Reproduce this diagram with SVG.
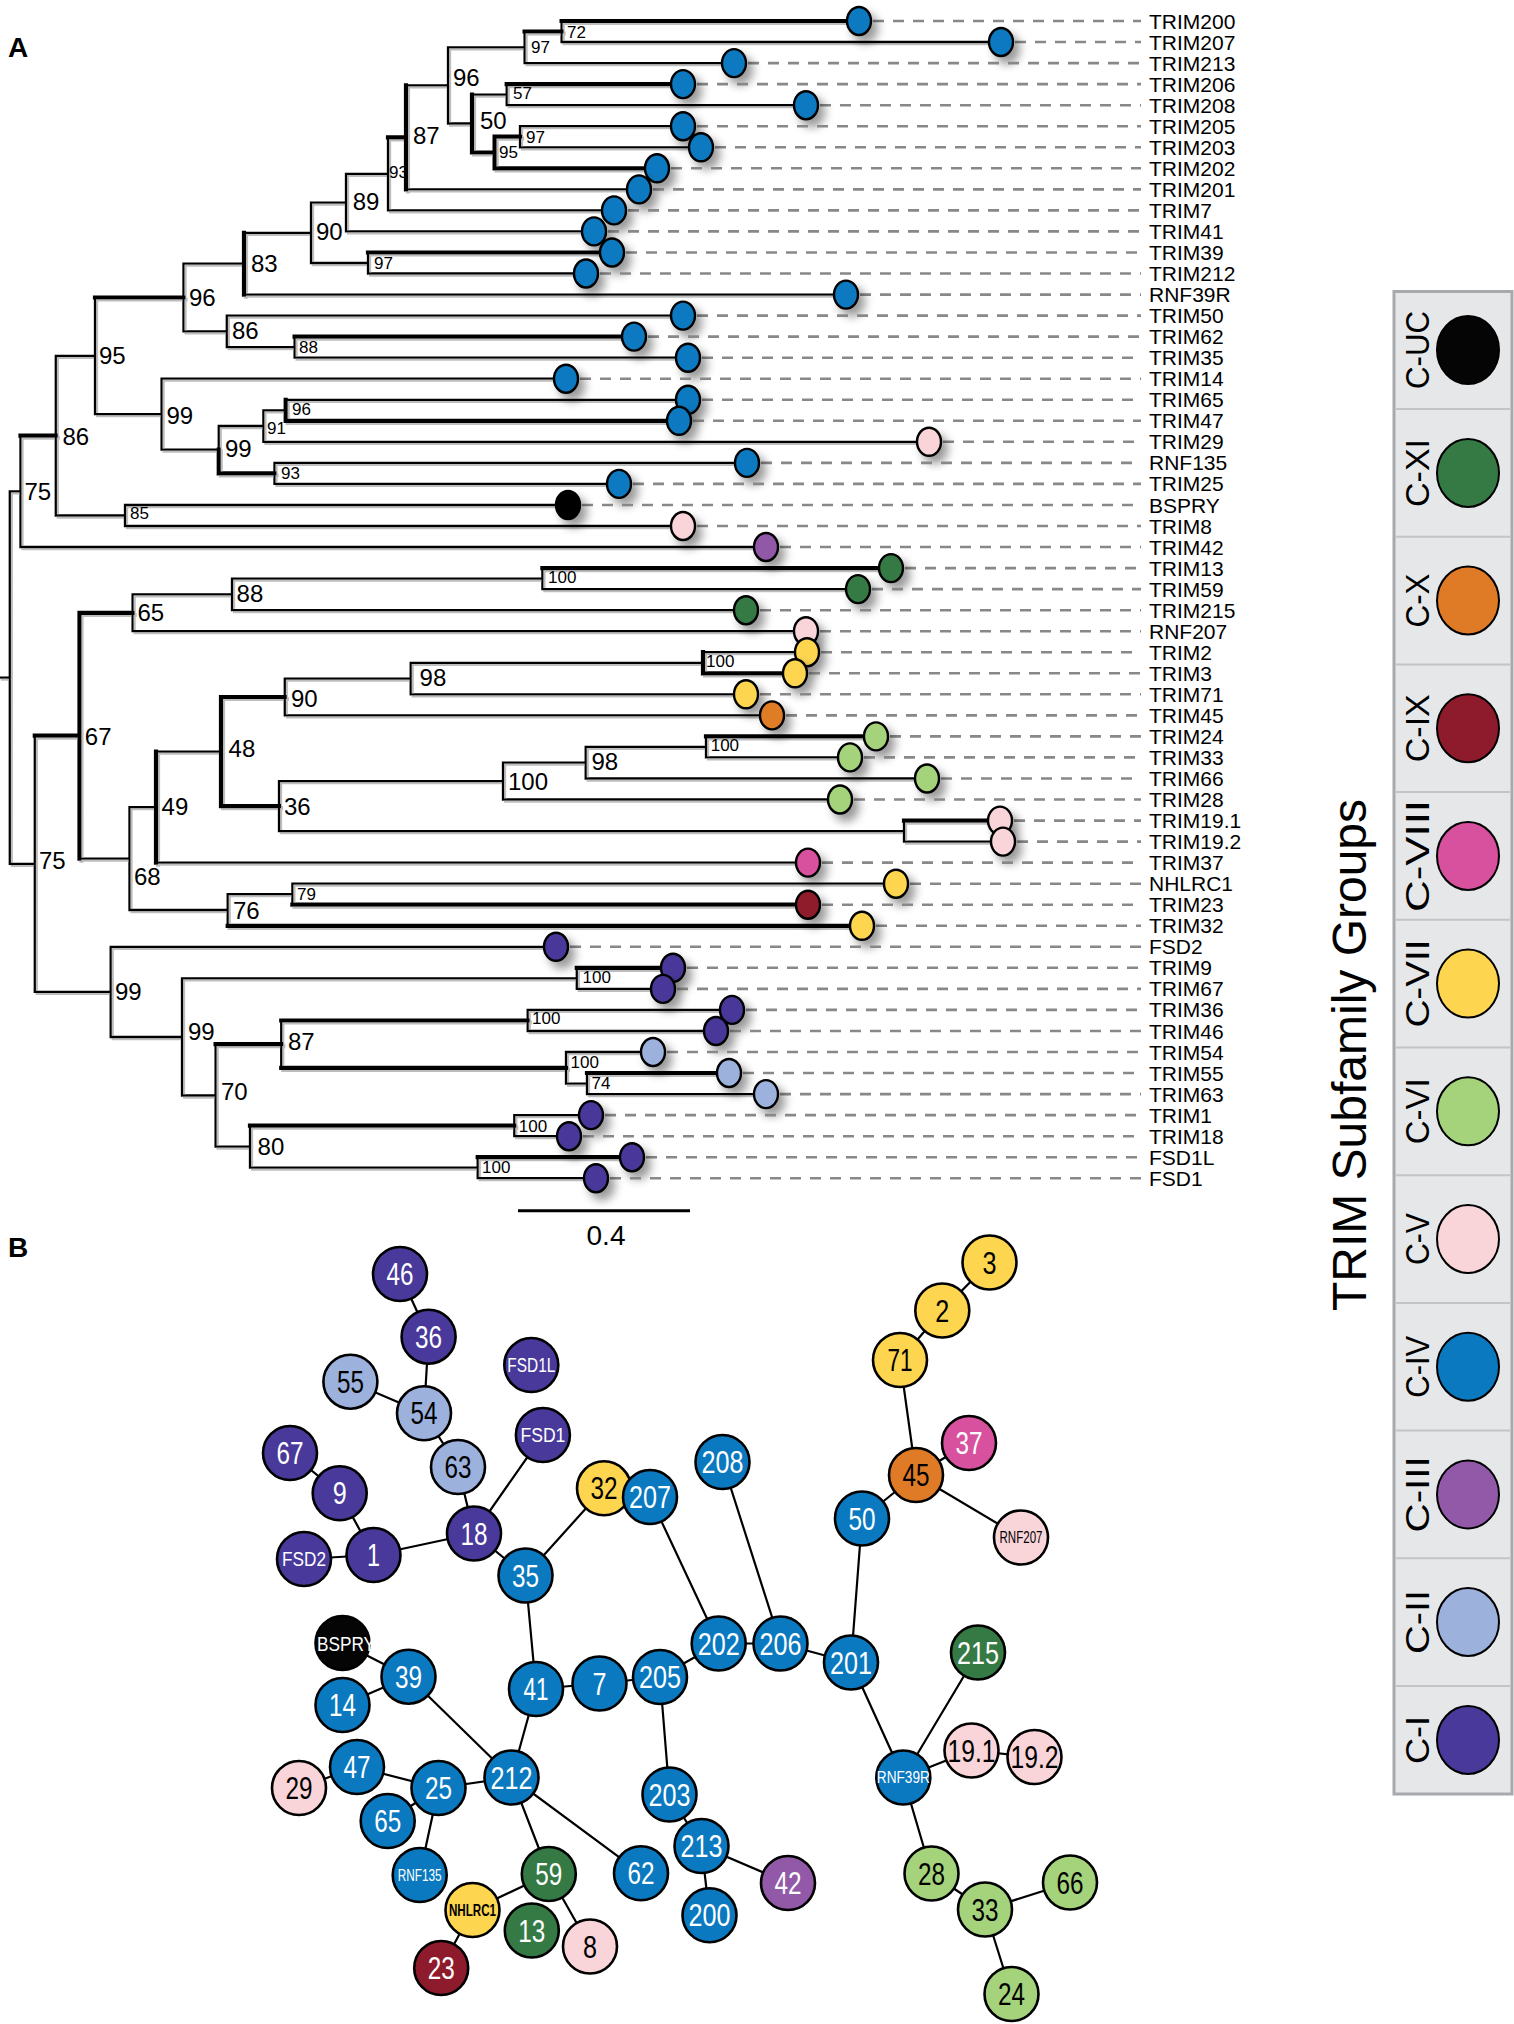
<svg xmlns="http://www.w3.org/2000/svg" width="1514" height="2024" viewBox="0 0 1514 2024">
<defs>
<style>
text{font-family:"Liberation Sans",Arial,sans-serif}
.br{fill:none;stroke:#000;stroke-width:2.3;stroke-linecap:square}
.bk{fill:none;stroke:#000;stroke-width:4.2;stroke-linecap:square}
.dash{fill:none;stroke:#888;stroke-width:2.6;stroke-dasharray:11 9}
.tc{stroke:#000;stroke-width:2.4;filter:url(#sh)}
.lab{font-size:21px;fill:#000}
.bl{font-size:24px;fill:#000}
.bs{font-size:17px;fill:#000}
.edge{stroke:#000;stroke-width:2.2;fill:none}
.nc{stroke:#000;stroke-width:2.6}
.nt{font-size:31px;text-anchor:middle}
.ns{font-size:16px;text-anchor:middle}
.nm{font-size:20px;text-anchor:middle}
.w{fill:#fff}
.k{fill:#000}
.c1{fill:#48399a}.c2{fill:#9cb2dd}.c3{fill:#9159a7}.c4{fill:#0a79c0}.c5{fill:#f9d5d9}.c6{fill:#a4d37c}
.c7{fill:#fed54f}.c8{fill:#d8519f}.c9{fill:#8e1b2c}.c10{fill:#df7b27}.c11{fill:#357a44}.cuc{fill:#050505}
.lg{font-size:34px;text-anchor:middle;fill:#000}
.le{stroke:#000;stroke-width:2}
</style>
<filter id="sh" x="-80%" y="-80%" width="300%" height="300%">
<feGaussianBlur in="SourceAlpha" stdDeviation="5"/>
<feOffset dx="6" dy="7"/>
<feComponentTransfer><feFuncA type="linear" slope="0.4"/></feComponentTransfer>
<feMerge><feMergeNode/><feMergeNode in="SourceGraphic"/></feMerge>
</filter>
<filter id="ls" x="-2%" y="-2%" width="104%" height="104%">
<feOffset in="SourceAlpha" dx="2" dy="2" result="o"/>
<feFlood flood-color="#bdbdbd"/>
<feComposite in2="o" operator="in"/>
<feMerge><feMergeNode/><feMergeNode in="SourceGraphic"/></feMerge>
</filter>
</defs>
<rect width="1514" height="2024" fill="#fff"/>

<text x="8" y="57" style="font-size:28px;font-weight:bold">A</text>
<text x="8" y="1257" style="font-size:28px;font-weight:bold">B</text>

<g id="tree-connectors" filter="url(#ls)">
<path class="br" d="M0 677.6H9.8M9.8 491.4V863.8M9.8 491.4H20.5M9.8 863.8H34.8
M20.5 435.7V547M20.5 435.7H55.8M20.5 547H766
M55.8 355.9V515.5M55.8 355.9H95M55.8 515.5H125
M95 297.5V414.2M95 297.5H183.5M95 414.2H161.6
M183.5 263.7V331.4M183.5 263.7H244M183.5 331.4H226.8
M244 232.8V294.6M244 232.8H311M244 294.6H846
M311 202.6V263M311 202.6H346M311 263H368
M346 173.9V231.4M346 173.9H388M346 231.4H594
M388 137.4V210.4M388 137.4H406M388 210.4H614
M406 85.4V189.4M406 85.4H448M406 189.4H639
M448 47.3V123.5M448 47.3H524.6M448 123.5H472
M524.6 31.5V63.1M524.6 31.5H561.6M524.6 63.1H734
M561.6 21V42M561.6 21H859M561.6 42H1001
M472 94.6V152.5M472 94.6H506.7M472 152.5H494.6
M506.7 84.1V105.2M506.7 84.1H683M506.7 105.2H806
M494.6 136.7V168.3M494.6 136.7H520M494.6 168.3H657
M520 126.2V147.3M520 126.2H683M520 147.3H701
M368 252.5V273.5M368 252.5H612M368 273.5H586
M226.8 315.6V347.1M226.8 315.6H683M226.8 347.1H294.6
M294.6 336.6V357.7M294.6 336.6H634M294.6 357.7H688
M161.6 378.7V449.7M161.6 378.7H566M161.6 449.7H218.75
M218.75 426V473.4M218.75 426H263.4M218.75 473.4H274.5
M263.4 410.3V441.8M263.4 410.3H285.7M263.4 441.8H929
M285.7 399.8V420.8M285.7 399.8H688M285.7 420.8H679
M274.5 462.9V483.9M274.5 462.9H747M274.5 483.9H619
M125 505V526M125 505H568M125 526H683
M34.8 735.7V991.9M34.8 735.7H79.5M34.8 991.9H110.7
M79.5 612.8V858.6M79.5 612.8H132.6M79.5 858.6H129.5
M132.6 594.4V631.2M132.6 594.4H232M132.6 631.2H806
M232 578.6V610.2M232 578.6H542.4M232 610.2H746
M542.4 568.1V589.1M542.4 568.1H891M542.4 589.1H858
M129.5 807.1V910M129.5 807.1H156M129.5 910H227.7
M156 751.6V862.6M156 751.6H221M156 862.6H808
M221 697V806.1M221 697H284.8M221 806.1H279
M284.8 678.6V715.4M284.8 678.6H410.7M284.8 715.4H772
M410.7 662.8V694.3M410.7 662.8H703M410.7 694.3H746
M703 652.2V673.3M703 652.2H807M703 673.3H795
M279 781.1V831.1M279 781.1H503M279 831.1H904
M503 762.7V799.5M503 762.7H585.7M503 799.5H840
M585.7 746.9V778.5M585.7 746.9H706M585.7 778.5H927
M706 736.4V757.4M706 736.4H876M706 757.4H850
M904 820.6V841.6M904 820.6H1000M904 841.6H1003
M227.7 894.2V925.8M227.7 894.2H292.4M227.7 925.8H862
M292.4 883.7V904.7M292.4 883.7H896M292.4 904.7H808
M110.7 946.8V1037M110.7 946.8H556M110.7 1037H182
M182 978.4V1095.5M182 978.4H576.8M182 1095.5H215.6
M576.8 967.8V988.9M576.8 967.8H673M576.8 988.9H663
M215.6 1044.2V1146.7M215.6 1044.2H281.25M215.6 1146.7H250
M281.25 1020.5V1067.8M281.25 1020.5H527.7M281.25 1067.8H566
M527.7 1009.9V1031M527.7 1009.9H732M527.7 1031H716
M566 1052V1083.6M566 1052H653M566 1083.6H587
M587 1073V1094.1M587 1073H729M587 1094.1H766
M250 1125.7V1167.7M250 1125.7H514.3M250 1167.7H477.7
M514.3 1115.1V1136.2M514.3 1115.1H591M514.3 1136.2H569
M477.7 1157.2V1178.2M477.7 1157.2H632M477.7 1178.2H596"/>
<path class="bk" d="M561.6 21H859M524.6 31.5H561.6M506.7 84.1H683M472 94.6V152.5H494.6M494.6 136.7V168.3H657M494.6 136.7H520
M406 85.4V189.4M388 137.4H406M368 252.5H612M244 232.8V294.6M95 297.5H183.5M294.6 336.6H634M285.7 399.8V420.8H679
M218.75 449.7V473.4H274.5M20.5 435.7H55.8M542.4 568.1H891M34.8 735.7H79.5M79.5 612.8V858.6M79.5 612.8H132.6
M156 751.6V862.6M221 697V806.1M221 697H284.8M221 806.1H279M703 652.2V673.3H795M706 736.4H876M904 820.6H1000
M292.4 904.7H808M227.7 925.8H862M576.8 967.8H673M215.6 1044.2H281.25M281.25 1020.5H527.7M281.25 1067.8H566
M250 1125.7H514.3M477.7 1157.2H632M587 1073H729"/>
</g>

<g id="bootstrap-labels">
<text class="bs" x="567" y="38.1">72</text>
<text class="bs" x="531" y="53.1">97</text>
<text class="bl" x="453" y="85.6">96</text>
<text class="bs" x="513" y="99.1">57</text>
<text class="bl" x="480" y="128.6">50</text>
<text class="bs" x="526" y="143.1">97</text>
<text class="bs" x="499" y="158.1">95</text>
<text class="bl" x="413" y="143.6">87</text>
<text class="bs" x="389" y="178.1">93</text>
<text class="bl" x="352.7" y="210.3">89</text>
<text class="bl" x="316" y="240.3">90</text>
<text class="bs" x="374" y="269.1">97</text>
<text class="bl" x="251" y="271.6">83</text>
<text class="bl" x="189" y="306.3">96</text>
<text class="bl" x="232" y="339.3">86</text>
<text class="bs" x="299" y="352.8">88</text>
<text class="bl" x="99" y="363.6">95</text>
<text class="bl" x="166.5" y="423.6">99</text>
<text class="bs" x="292" y="415.1">96</text>
<text class="bs" x="267" y="433.8">91</text>
<text class="bl" x="225" y="456.9">99</text>
<text class="bs" x="281" y="478.8">93</text>
<text class="bl" x="62.5" y="445.3">86</text>
<text class="bs" x="130" y="519.4">85</text>
<text class="bl" x="24.5" y="500.3">75</text>
<text class="bs" x="548" y="582.8">100</text>
<text class="bl" x="236.6" y="601.6">88</text>
<text class="bl" x="137.5" y="620.9">65</text>
<text class="bl" x="84.8" y="745.3">67</text>
<text class="bl" x="39" y="868.6">75</text>
<text class="bl" x="419.6" y="685.9">98</text>
<text class="bs" x="706" y="667.1">100</text>
<text class="bl" x="291" y="706.9">90</text>
<text class="bl" x="228.6" y="756.9">48</text>
<text class="bl" x="284" y="815.3">36</text>
<text class="bl" x="508" y="790.3">100</text>
<text class="bl" x="591.5" y="770.3">98</text>
<text class="bs" x="710.7" y="751.1">100</text>
<text class="bl" x="161.6" y="815.3">49</text>
<text class="bl" x="134" y="885.3">68</text>
<text class="bs" x="297" y="900.1">79</text>
<text class="bl" x="233" y="919.3">76</text>
<text class="bl" x="115" y="1000.3">99</text>
<text class="bs" x="582.6" y="983.4">100</text>
<text class="bl" x="188" y="1040.3">99</text>
<text class="bs" x="532" y="1024.4">100</text>
<text class="bl" x="288" y="1050.3">87</text>
<text class="bs" x="570.5" y="1067.8">100</text>
<text class="bs" x="591.5" y="1088.8">74</text>
<text class="bl" x="221" y="1100.3">70</text>
<text class="bs" x="518.75" y="1132.1">100</text>
<text class="bl" x="257.6" y="1155.3">80</text>
<text class="bs" x="482" y="1173.4">100</text>
</g>

<g id="tree-leaves">
<g id="leaf-TRIM200"><path class="dash" d="M873 21H1141"/><ellipse class="tc c4" cx="859" cy="21" rx="12" ry="14"/><text class="lab" x="1149" y="28.5">TRIM200</text></g>
<g id="leaf-TRIM207"><path class="dash" d="M1015 42H1141"/><ellipse class="tc c4" cx="1001" cy="42" rx="12" ry="14"/><text class="lab" x="1149" y="49.5">TRIM207</text></g>
<g id="leaf-TRIM213"><path class="dash" d="M748 63.1H1141"/><ellipse class="tc c4" cx="734" cy="63.1" rx="12" ry="14"/><text class="lab" x="1149" y="70.6">TRIM213</text></g>
<g id="leaf-TRIM206"><path class="dash" d="M697 84.1H1141"/><ellipse class="tc c4" cx="683" cy="84.1" rx="12" ry="14"/><text class="lab" x="1149" y="91.6">TRIM206</text></g>
<g id="leaf-TRIM208"><path class="dash" d="M820 105.2H1141"/><ellipse class="tc c4" cx="806" cy="105.2" rx="12" ry="14"/><text class="lab" x="1149" y="112.7">TRIM208</text></g>
<g id="leaf-TRIM205"><path class="dash" d="M697 126.2H1141"/><ellipse class="tc c4" cx="683" cy="126.2" rx="12" ry="14"/><text class="lab" x="1149" y="133.7">TRIM205</text></g>
<g id="leaf-TRIM203"><path class="dash" d="M715 147.3H1141"/><ellipse class="tc c4" cx="701" cy="147.3" rx="12" ry="14"/><text class="lab" x="1149" y="154.8">TRIM203</text></g>
<g id="leaf-TRIM202"><path class="dash" d="M671 168.3H1141"/><ellipse class="tc c4" cx="657" cy="168.3" rx="12" ry="14"/><text class="lab" x="1149" y="175.8">TRIM202</text></g>
<g id="leaf-TRIM201"><path class="dash" d="M653 189.4H1141"/><ellipse class="tc c4" cx="639" cy="189.4" rx="12" ry="14"/><text class="lab" x="1149" y="196.9">TRIM201</text></g>
<g id="leaf-TRIM7"><path class="dash" d="M628 210.4H1141"/><ellipse class="tc c4" cx="614" cy="210.4" rx="12" ry="14"/><text class="lab" x="1149" y="217.9">TRIM7</text></g>
<g id="leaf-TRIM41"><path class="dash" d="M608 231.4H1141"/><ellipse class="tc c4" cx="594" cy="231.4" rx="12" ry="14"/><text class="lab" x="1149" y="238.9">TRIM41</text></g>
<g id="leaf-TRIM39"><path class="dash" d="M626 252.5H1141"/><ellipse class="tc c4" cx="612" cy="252.5" rx="12" ry="14"/><text class="lab" x="1149" y="260">TRIM39</text></g>
<g id="leaf-TRIM212"><path class="dash" d="M600 273.5H1141"/><ellipse class="tc c4" cx="586" cy="273.5" rx="12" ry="14"/><text class="lab" x="1149" y="281">TRIM212</text></g>
<g id="leaf-RNF39R"><path class="dash" d="M860 294.6H1141"/><ellipse class="tc c4" cx="846" cy="294.6" rx="12" ry="14"/><text class="lab" x="1149" y="302.1">RNF39R</text></g>
<g id="leaf-TRIM50"><path class="dash" d="M697 315.6H1141"/><ellipse class="tc c4" cx="683" cy="315.6" rx="12" ry="14"/><text class="lab" x="1149" y="323.1">TRIM50</text></g>
<g id="leaf-TRIM62"><path class="dash" d="M648 336.6H1141"/><ellipse class="tc c4" cx="634" cy="336.6" rx="12" ry="14"/><text class="lab" x="1149" y="344.1">TRIM62</text></g>
<g id="leaf-TRIM35"><path class="dash" d="M702 357.7H1141"/><ellipse class="tc c4" cx="688" cy="357.7" rx="12" ry="14"/><text class="lab" x="1149" y="365.2">TRIM35</text></g>
<g id="leaf-TRIM14"><path class="dash" d="M580 378.7H1141"/><ellipse class="tc c4" cx="566" cy="378.7" rx="12" ry="14"/><text class="lab" x="1149" y="386.2">TRIM14</text></g>
<g id="leaf-TRIM65"><path class="dash" d="M702 399.8H1141"/><ellipse class="tc c4" cx="688" cy="399.8" rx="12" ry="14"/><text class="lab" x="1149" y="407.3">TRIM65</text></g>
<g id="leaf-TRIM47"><path class="dash" d="M693 420.8H1141"/><ellipse class="tc c4" cx="679" cy="420.8" rx="12" ry="14"/><text class="lab" x="1149" y="428.3">TRIM47</text></g>
<g id="leaf-TRIM29"><path class="dash" d="M943 441.8H1141"/><ellipse class="tc c5" cx="929" cy="441.8" rx="12" ry="14"/><text class="lab" x="1149" y="449.3">TRIM29</text></g>
<g id="leaf-RNF135"><path class="dash" d="M761 462.9H1141"/><ellipse class="tc c4" cx="747" cy="462.9" rx="12" ry="14"/><text class="lab" x="1149" y="470.4">RNF135</text></g>
<g id="leaf-TRIM25"><path class="dash" d="M633 483.9H1141"/><ellipse class="tc c4" cx="619" cy="483.9" rx="12" ry="14"/><text class="lab" x="1149" y="491.4">TRIM25</text></g>
<g id="leaf-BSPRY"><path class="dash" d="M582 505H1141"/><ellipse class="tc cuc" cx="568" cy="505" rx="12" ry="14"/><text class="lab" x="1149" y="512.5">BSPRY</text></g>
<g id="leaf-TRIM8"><path class="dash" d="M697 526H1141"/><ellipse class="tc c5" cx="683" cy="526" rx="12" ry="14"/><text class="lab" x="1149" y="533.5">TRIM8</text></g>
<g id="leaf-TRIM42"><path class="dash" d="M780 547H1141"/><ellipse class="tc c3" cx="766" cy="547" rx="12" ry="14"/><text class="lab" x="1149" y="554.5">TRIM42</text></g>
<g id="leaf-TRIM13"><path class="dash" d="M905 568.1H1141"/><ellipse class="tc c11" cx="891" cy="568.1" rx="12" ry="14"/><text class="lab" x="1149" y="575.6">TRIM13</text></g>
<g id="leaf-TRIM59"><path class="dash" d="M872 589.1H1141"/><ellipse class="tc c11" cx="858" cy="589.1" rx="12" ry="14"/><text class="lab" x="1149" y="596.6">TRIM59</text></g>
<g id="leaf-TRIM215"><path class="dash" d="M760 610.2H1141"/><ellipse class="tc c11" cx="746" cy="610.2" rx="12" ry="14"/><text class="lab" x="1149" y="617.7">TRIM215</text></g>
<g id="leaf-RNF207"><path class="dash" d="M820 631.2H1141"/><ellipse class="tc c5" cx="806" cy="631.2" rx="12" ry="14"/><text class="lab" x="1149" y="638.7">RNF207</text></g>
<g id="leaf-TRIM2"><path class="dash" d="M821 652.2H1141"/><ellipse class="tc c7" cx="807" cy="652.2" rx="12" ry="14"/><text class="lab" x="1149" y="659.7">TRIM2</text></g>
<g id="leaf-TRIM3"><path class="dash" d="M809 673.3H1141"/><ellipse class="tc c7" cx="795" cy="673.3" rx="12" ry="14"/><text class="lab" x="1149" y="680.8">TRIM3</text></g>
<g id="leaf-TRIM71"><path class="dash" d="M760 694.3H1141"/><ellipse class="tc c7" cx="746" cy="694.3" rx="12" ry="14"/><text class="lab" x="1149" y="701.8">TRIM71</text></g>
<g id="leaf-TRIM45"><path class="dash" d="M786 715.4H1141"/><ellipse class="tc c10" cx="772" cy="715.4" rx="12" ry="14"/><text class="lab" x="1149" y="722.9">TRIM45</text></g>
<g id="leaf-TRIM24"><path class="dash" d="M890 736.4H1141"/><ellipse class="tc c6" cx="876" cy="736.4" rx="12" ry="14"/><text class="lab" x="1149" y="743.9">TRIM24</text></g>
<g id="leaf-TRIM33"><path class="dash" d="M864 757.4H1141"/><ellipse class="tc c6" cx="850" cy="757.4" rx="12" ry="14"/><text class="lab" x="1149" y="764.9">TRIM33</text></g>
<g id="leaf-TRIM66"><path class="dash" d="M941 778.5H1141"/><ellipse class="tc c6" cx="927" cy="778.5" rx="12" ry="14"/><text class="lab" x="1149" y="786">TRIM66</text></g>
<g id="leaf-TRIM28"><path class="dash" d="M854 799.5H1141"/><ellipse class="tc c6" cx="840" cy="799.5" rx="12" ry="14"/><text class="lab" x="1149" y="807">TRIM28</text></g>
<g id="leaf-TRIM19.1"><path class="dash" d="M1014 820.6H1141"/><ellipse class="tc c5" cx="1000" cy="820.6" rx="12" ry="14"/><text class="lab" x="1149" y="828.1">TRIM19.1</text></g>
<g id="leaf-TRIM19.2"><path class="dash" d="M1017 841.6H1141"/><ellipse class="tc c5" cx="1003" cy="841.6" rx="12" ry="14"/><text class="lab" x="1149" y="849.1">TRIM19.2</text></g>
<g id="leaf-TRIM37"><path class="dash" d="M822 862.6H1141"/><ellipse class="tc c8" cx="808" cy="862.6" rx="12" ry="14"/><text class="lab" x="1149" y="870.1">TRIM37</text></g>
<g id="leaf-NHLRC1"><path class="dash" d="M910 883.7H1141"/><ellipse class="tc c7" cx="896" cy="883.7" rx="12" ry="14"/><text class="lab" x="1149" y="891.2">NHLRC1</text></g>
<g id="leaf-TRIM23"><path class="dash" d="M822 904.7H1141"/><ellipse class="tc c9" cx="808" cy="904.7" rx="12" ry="14"/><text class="lab" x="1149" y="912.2">TRIM23</text></g>
<g id="leaf-TRIM32"><path class="dash" d="M876 925.8H1141"/><ellipse class="tc c7" cx="862" cy="925.8" rx="12" ry="14"/><text class="lab" x="1149" y="933.3">TRIM32</text></g>
<g id="leaf-FSD2"><path class="dash" d="M570 946.8H1141"/><ellipse class="tc c1" cx="556" cy="946.8" rx="12" ry="14"/><text class="lab" x="1149" y="954.3">FSD2</text></g>
<g id="leaf-TRIM9"><path class="dash" d="M687 967.8H1141"/><ellipse class="tc c1" cx="673" cy="967.8" rx="12" ry="14"/><text class="lab" x="1149" y="975.3">TRIM9</text></g>
<g id="leaf-TRIM67"><path class="dash" d="M677 988.9H1141"/><ellipse class="tc c1" cx="663" cy="988.9" rx="12" ry="14"/><text class="lab" x="1149" y="996.4">TRIM67</text></g>
<g id="leaf-TRIM36"><path class="dash" d="M746 1009.9H1141"/><ellipse class="tc c1" cx="732" cy="1009.9" rx="12" ry="14"/><text class="lab" x="1149" y="1017.4">TRIM36</text></g>
<g id="leaf-TRIM46"><path class="dash" d="M730 1031H1141"/><ellipse class="tc c1" cx="716" cy="1031" rx="12" ry="14"/><text class="lab" x="1149" y="1038.5">TRIM46</text></g>
<g id="leaf-TRIM54"><path class="dash" d="M667 1052H1141"/><ellipse class="tc c2" cx="653" cy="1052" rx="12" ry="14"/><text class="lab" x="1149" y="1059.5">TRIM54</text></g>
<g id="leaf-TRIM55"><path class="dash" d="M743 1073H1141"/><ellipse class="tc c2" cx="729" cy="1073" rx="12" ry="14"/><text class="lab" x="1149" y="1080.5">TRIM55</text></g>
<g id="leaf-TRIM63"><path class="dash" d="M780 1094.1H1141"/><ellipse class="tc c2" cx="766" cy="1094.1" rx="12" ry="14"/><text class="lab" x="1149" y="1101.6">TRIM63</text></g>
<g id="leaf-TRIM1"><path class="dash" d="M605 1115.1H1141"/><ellipse class="tc c1" cx="591" cy="1115.1" rx="12" ry="14"/><text class="lab" x="1149" y="1122.6">TRIM1</text></g>
<g id="leaf-TRIM18"><path class="dash" d="M583 1136.2H1141"/><ellipse class="tc c1" cx="569" cy="1136.2" rx="12" ry="14"/><text class="lab" x="1149" y="1143.7">TRIM18</text></g>
<g id="leaf-FSD1L"><path class="dash" d="M646 1157.2H1141"/><ellipse class="tc c1" cx="632" cy="1157.2" rx="12" ry="14"/><text class="lab" x="1149" y="1164.7">FSD1L</text></g>
<g id="leaf-FSD1"><path class="dash" d="M610 1178.2H1141"/><ellipse class="tc c1" cx="596" cy="1178.2" rx="12" ry="14"/><text class="lab" x="1149" y="1185.7">FSD1</text></g>
</g>

<g id="scale-bar">
<path d="M518 1210.7H690" stroke="#000" stroke-width="3"/>
<text x="606" y="1245" style="font-size:28px;text-anchor:middle">0.4</text>
</g>

<g id="legend">
<rect x="1394" y="291.5" width="118" height="1502.5" fill="#e6e7e8" stroke="#a7a9ac" stroke-width="3"/>
<path d="M1396 409H1510M1396 536.7H1510M1396 664.4H1510M1396 792.1H1510M1396 919.8H1510M1396 1047.5H1510M1396 1175.2H1510M1396 1302.9H1510M1396 1430.6H1510M1396 1558.3H1510M1396 1686H1510" stroke="#c4c4c4" stroke-width="2"/>
<g id="lg-CUC"><ellipse class="le cuc" cx="1468" cy="350" rx="31" ry="34"/><text class="lg" transform="translate(1429 350) rotate(-90)" textLength="78" lengthAdjust="spacingAndGlyphs">C-UC</text></g>
<g id="lg-CXI"><ellipse class="le c11" cx="1468" cy="473" rx="31" ry="34"/><text class="lg" transform="translate(1429 473) rotate(-90)" textLength="68" lengthAdjust="spacingAndGlyphs">C-XI</text></g>
<g id="lg-CX"><ellipse class="le c10" cx="1468" cy="600.5" rx="31" ry="34"/><text class="lg" transform="translate(1429 600.5) rotate(-90)" textLength="54" lengthAdjust="spacingAndGlyphs">C-X</text></g>
<g id="lg-CIX"><ellipse class="le c9" cx="1468" cy="728.2" rx="31" ry="34"/><text class="lg" transform="translate(1429 728.2) rotate(-90)" textLength="68" lengthAdjust="spacingAndGlyphs">C-IX</text></g>
<g id="lg-CVIII"><ellipse class="le c8" cx="1468" cy="856" rx="31" ry="34"/><text class="lg" transform="translate(1429 856) rotate(-90)" textLength="112" lengthAdjust="spacingAndGlyphs">C-VIII</text></g>
<g id="lg-CVII"><ellipse class="le c7" cx="1468" cy="983.6" rx="31" ry="34"/><text class="lg" transform="translate(1429 983.6) rotate(-90)" textLength="88" lengthAdjust="spacingAndGlyphs">C-VII</text></g>
<g id="lg-CVI"><ellipse class="le c6" cx="1468" cy="1111.3" rx="31" ry="34"/><text class="lg" transform="translate(1429 1111.3) rotate(-90)" textLength="66" lengthAdjust="spacingAndGlyphs">C-VI</text></g>
<g id="lg-CV"><ellipse class="le c5" cx="1468" cy="1239" rx="31" ry="34"/><text class="lg" transform="translate(1429 1239) rotate(-90)" textLength="52" lengthAdjust="spacingAndGlyphs">C-V</text></g>
<g id="lg-CIV"><ellipse class="le c4" cx="1468" cy="1366.7" rx="31" ry="34"/><text class="lg" transform="translate(1429 1366.7) rotate(-90)" textLength="62" lengthAdjust="spacingAndGlyphs">C-IV</text></g>
<g id="lg-CIII"><ellipse class="le c3" cx="1468" cy="1494.4" rx="31" ry="34"/><text class="lg" transform="translate(1429 1494.4) rotate(-90)" textLength="76" lengthAdjust="spacingAndGlyphs">C-III</text></g>
<g id="lg-CII"><ellipse class="le c2" cx="1468" cy="1622" rx="31" ry="34"/><text class="lg" transform="translate(1429 1622) rotate(-90)" textLength="64" lengthAdjust="spacingAndGlyphs">C-II</text></g>
<g id="lg-CI"><ellipse class="le c1" cx="1468" cy="1740" rx="31" ry="34"/><text class="lg" transform="translate(1429 1740) rotate(-90)" textLength="48" lengthAdjust="spacingAndGlyphs">C-I</text></g>
</g>
<text transform="translate(1366 1055) rotate(-90)" style="font-size:48px;text-anchor:middle">TRIM Subfamily Groups</text>

<g id="network-connectors">
<path class="edge" d="M400 1274L428.6 1336.7M428.6 1336.7L424 1413.3M350.4 1381.7L424 1413.3M424 1413.3L458 1467M458 1467L474 1533.5
M542.9 1435L474 1533.5M474 1533.5L373.5 1555M373.5 1555L339.7 1493.3M339.7 1493.3L290 1453M373.5 1555L304 1559
M474 1533.5L525.5 1575.5M525.5 1575.5L604 1488.3M525.5 1575.5L536 1689M650 1497L718.7 1643.5M722.5 1462L780.5 1643.5
M718.7 1643.5L780.5 1643.5M718.7 1643.5L660 1677M660 1677L599.5 1683.5M599.5 1683.5L536 1689M536 1689L511.5 1777.5
M660 1677L669.5 1794.5M669.5 1794.5L701.5 1846M701.5 1846L709.5 1915.3M701.5 1846L788 1883
M780.5 1643.5L851 1662.5M851 1662.5L862 1518.5M862 1518.5L916 1475M916 1475L900 1360M900 1360L942.3 1310.5M942.3 1310.5L989.5 1262.5
M916 1475L969 1443M916 1475L1021 1537.5M851 1662.5L903.3 1777.5M903.3 1777.5L978 1652.5M903.3 1777.5L971.5 1750.5
M971.5 1750.5L1034.5 1757M903.3 1777.5L931.5 1873.5M931.5 1873.5L985 1909.5M985 1909.5L1070 1882.5M985 1909.5L1011.5 1994
M342.5 1643L408.5 1676.7M408.5 1676.7L342.5 1705M408.5 1676.7L511.5 1777.5M511.5 1777.5L438.5 1788M438.5 1788L357 1767
M357 1767L299 1788M438.5 1788L387.7 1821M438.5 1788L419.7 1875M511.5 1777.5L548.8 1874M511.5 1777.5L641 1873.3
M548.8 1874L472.5 1910M548.8 1874L590 1946.5M472.5 1910L441.2 1968"/>
</g>

<g id="network-nodes">
<g id="n-46"><circle class="nc c1" cx="400" cy="1274" r="27"/><text class="nt w" x="400" y="1285" textLength="27" lengthAdjust="spacingAndGlyphs">46</text></g>
<g id="n-36"><circle class="nc c1" cx="428.6" cy="1336.7" r="27"/><text class="nt w" x="428.6" y="1347.7" textLength="27" lengthAdjust="spacingAndGlyphs">36</text></g>
<g id="n-FSD1L"><circle class="nc c1" cx="531.3" cy="1365" r="27"/><text class="nm w" x="531.3" y="1372" textLength="48" lengthAdjust="spacingAndGlyphs">FSD1L</text></g>
<g id="n-55"><circle class="nc c2" cx="350.4" cy="1381.7" r="27"/><text class="nt k" x="350.4" y="1392.7" textLength="27" lengthAdjust="spacingAndGlyphs">55</text></g>
<g id="n-54"><circle class="nc c2" cx="424" cy="1413.3" r="27"/><text class="nt k" x="424" y="1424.3" textLength="27" lengthAdjust="spacingAndGlyphs">54</text></g>
<g id="n-FSD1"><circle class="nc c1" cx="542.9" cy="1435" r="27"/><text class="nm w" x="542.9" y="1442" textLength="45" lengthAdjust="spacingAndGlyphs">FSD1</text></g>
<g id="n-67"><circle class="nc c1" cx="290" cy="1453" r="27"/><text class="nt w" x="290" y="1464" textLength="27" lengthAdjust="spacingAndGlyphs">67</text></g>
<g id="n-63"><circle class="nc c2" cx="458" cy="1467" r="27"/><text class="nt k" x="458" y="1478" textLength="27" lengthAdjust="spacingAndGlyphs">63</text></g>
<g id="n-9"><circle class="nc c1" cx="339.7" cy="1493.3" r="27"/><text class="nt w" x="339.7" y="1504.3" textLength="14" lengthAdjust="spacingAndGlyphs">9</text></g>
<g id="n-32"><circle class="nc c7" cx="604" cy="1488.3" r="27"/><text class="nt k" x="604" y="1499.3" textLength="27" lengthAdjust="spacingAndGlyphs">32</text></g>
<g id="n-207"><circle class="nc c4" cx="650" cy="1497" r="27"/><text class="nt w" x="650" y="1508" textLength="42" lengthAdjust="spacingAndGlyphs">207</text></g>
<g id="n-208"><circle class="nc c4" cx="722.5" cy="1462" r="27"/><text class="nt w" x="722.5" y="1473" textLength="42" lengthAdjust="spacingAndGlyphs">208</text></g>
<g id="n-FSD2"><circle class="nc c1" cx="304" cy="1559" r="27"/><text class="nm w" x="304" y="1566" textLength="44" lengthAdjust="spacingAndGlyphs">FSD2</text></g>
<g id="n-1"><circle class="nc c1" cx="373.5" cy="1555" r="27"/><text class="nt w" x="373.5" y="1566" textLength="13" lengthAdjust="spacingAndGlyphs">1</text></g>
<g id="n-18"><circle class="nc c1" cx="474" cy="1533.5" r="27"/><text class="nt w" x="474" y="1544.5" textLength="27" lengthAdjust="spacingAndGlyphs">18</text></g>
<g id="n-35"><circle class="nc c4" cx="525.5" cy="1575.5" r="27"/><text class="nt w" x="525.5" y="1586.5" textLength="27" lengthAdjust="spacingAndGlyphs">35</text></g>
<g id="n-3"><circle class="nc c7" cx="989.5" cy="1262.5" r="27"/><text class="nt k" x="989.5" y="1273.5" textLength="14" lengthAdjust="spacingAndGlyphs">3</text></g>
<g id="n-2"><circle class="nc c7" cx="942.3" cy="1310.5" r="27"/><text class="nt k" x="942.3" y="1321.5" textLength="14" lengthAdjust="spacingAndGlyphs">2</text></g>
<g id="n-71"><circle class="nc c7" cx="900" cy="1360" r="27"/><text class="nt k" x="900" y="1371" textLength="25" lengthAdjust="spacingAndGlyphs">71</text></g>
<g id="n-37"><circle class="nc c8" cx="969" cy="1443" r="27"/><text class="nt w" x="969" y="1454" textLength="27" lengthAdjust="spacingAndGlyphs">37</text></g>
<g id="n-45"><circle class="nc c10" cx="916" cy="1475" r="27"/><text class="nt k" x="916" y="1486" textLength="27" lengthAdjust="spacingAndGlyphs">45</text></g>
<g id="n-50"><circle class="nc c4" cx="862" cy="1518.5" r="27"/><text class="nt w" x="862" y="1529.5" textLength="27" lengthAdjust="spacingAndGlyphs">50</text></g>
<g id="n-RNF207"><circle class="nc c5" cx="1021" cy="1537.5" r="27"/><text class="ns k" x="1021" y="1543.2" textLength="43" lengthAdjust="spacingAndGlyphs">RNF207</text></g>
<g id="n-BSPRY"><circle class="nc cuc" cx="342.5" cy="1643" r="27"/><text class="ns w" style="font-size:21px" x="346" y="1650.5" textLength="58" lengthAdjust="spacingAndGlyphs">BSPRY</text></g>
<g id="n-39"><circle class="nc c4" cx="408.5" cy="1676.7" r="27"/><text class="nt w" x="408.5" y="1687.7" textLength="27" lengthAdjust="spacingAndGlyphs">39</text></g>
<g id="n-14"><circle class="nc c4" cx="342.5" cy="1705" r="27"/><text class="nt w" x="342.5" y="1716" textLength="27" lengthAdjust="spacingAndGlyphs">14</text></g>
<g id="n-41"><circle class="nc c4" cx="536" cy="1689" r="27"/><text class="nt w" x="536" y="1700" textLength="25" lengthAdjust="spacingAndGlyphs">41</text></g>
<g id="n-7"><circle class="nc c4" cx="599.5" cy="1683.5" r="27"/><text class="nt w" x="599.5" y="1694.5" textLength="14" lengthAdjust="spacingAndGlyphs">7</text></g>
<g id="n-205"><circle class="nc c4" cx="660" cy="1677" r="27"/><text class="nt w" x="660" y="1688" textLength="42" lengthAdjust="spacingAndGlyphs">205</text></g>
<g id="n-202"><circle class="nc c4" cx="718.7" cy="1643.5" r="27"/><text class="nt w" x="718.7" y="1654.5" textLength="42" lengthAdjust="spacingAndGlyphs">202</text></g>
<g id="n-206"><circle class="nc c4" cx="780.5" cy="1643.5" r="27"/><text class="nt w" x="780.5" y="1654.5" textLength="42" lengthAdjust="spacingAndGlyphs">206</text></g>
<g id="n-201"><circle class="nc c4" cx="851" cy="1662.5" r="27"/><text class="nt w" x="851" y="1673.5" textLength="42" lengthAdjust="spacingAndGlyphs">201</text></g>
<g id="n-215"><circle class="nc c11" cx="978" cy="1652.5" r="27"/><text class="nt w" x="978" y="1663.5" textLength="42" lengthAdjust="spacingAndGlyphs">215</text></g>
<g id="n-19.1"><circle class="nc c5" cx="971.5" cy="1750.5" r="27"/><text class="nt k" x="971.5" y="1761.5" textLength="48" lengthAdjust="spacingAndGlyphs">19.1</text></g>
<g id="n-19.2"><circle class="nc c5" cx="1034.5" cy="1757" r="27"/><text class="nt k" x="1034.5" y="1768" textLength="48" lengthAdjust="spacingAndGlyphs">19.2</text></g>
<g id="n-RNF39R"><circle class="nc c4" cx="903.3" cy="1777.5" r="27"/><text class="ns w" x="903.3" y="1783.2" textLength="53" lengthAdjust="spacingAndGlyphs">RNF39R</text></g>
<g id="n-47"><circle class="nc c4" cx="357" cy="1767" r="27"/><text class="nt w" x="357" y="1778" textLength="27" lengthAdjust="spacingAndGlyphs">47</text></g>
<g id="n-29"><circle class="nc c5" cx="299" cy="1788" r="27"/><text class="nt k" x="299" y="1799" textLength="27" lengthAdjust="spacingAndGlyphs">29</text></g>
<g id="n-25"><circle class="nc c4" cx="438.5" cy="1788" r="27"/><text class="nt w" x="438.5" y="1799" textLength="27" lengthAdjust="spacingAndGlyphs">25</text></g>
<g id="n-212"><circle class="nc c4" cx="511.5" cy="1777.5" r="27"/><text class="nt w" x="511.5" y="1788.5" textLength="42" lengthAdjust="spacingAndGlyphs">212</text></g>
<g id="n-65"><circle class="nc c4" cx="387.7" cy="1821" r="27"/><text class="nt w" x="387.7" y="1832" textLength="27" lengthAdjust="spacingAndGlyphs">65</text></g>
<g id="n-203"><circle class="nc c4" cx="669.5" cy="1794.5" r="27"/><text class="nt w" x="669.5" y="1805.5" textLength="42" lengthAdjust="spacingAndGlyphs">203</text></g>
<g id="n-213"><circle class="nc c4" cx="701.5" cy="1846" r="27"/><text class="nt w" x="701.5" y="1857" textLength="42" lengthAdjust="spacingAndGlyphs">213</text></g>
<g id="n-RNF135"><circle class="nc c4" cx="419.7" cy="1875" r="27"/><text class="ns w" x="419.7" y="1880.7" textLength="44" lengthAdjust="spacingAndGlyphs">RNF135</text></g>
<g id="n-59"><circle class="nc c11" cx="548.8" cy="1874" r="27"/><text class="nt w" x="548.8" y="1885" textLength="27" lengthAdjust="spacingAndGlyphs">59</text></g>
<g id="n-62"><circle class="nc c4" cx="641" cy="1873.3" r="27"/><text class="nt w" x="641" y="1884.3" textLength="27" lengthAdjust="spacingAndGlyphs">62</text></g>
<g id="n-42"><circle class="nc c3" cx="788" cy="1883" r="27"/><text class="nt w" x="788" y="1894" textLength="27" lengthAdjust="spacingAndGlyphs">42</text></g>
<g id="n-28"><circle class="nc c6" cx="931.5" cy="1873.5" r="27"/><text class="nt k" x="931.5" y="1884.5" textLength="27" lengthAdjust="spacingAndGlyphs">28</text></g>
<g id="n-66"><circle class="nc c6" cx="1070" cy="1882.5" r="27"/><text class="nt k" x="1070" y="1893.5" textLength="27" lengthAdjust="spacingAndGlyphs">66</text></g>
<g id="n-33"><circle class="nc c6" cx="985" cy="1909.5" r="27"/><text class="nt k" x="985" y="1920.5" textLength="27" lengthAdjust="spacingAndGlyphs">33</text></g>
<g id="n-NHLRC1"><circle class="nc c7" cx="472.5" cy="1910" r="27"/><text class="ns k" style="font-weight:bold" x="472.5" y="1915.7" textLength="47" lengthAdjust="spacingAndGlyphs">NHLRC1</text></g>
<g id="n-13"><circle class="nc c11" cx="531.8" cy="1930.5" r="27"/><text class="nt w" x="531.8" y="1941.5" textLength="27" lengthAdjust="spacingAndGlyphs">13</text></g>
<g id="n-8"><circle class="nc c5" cx="590" cy="1946.5" r="27"/><text class="nt k" x="590" y="1957.5" textLength="14" lengthAdjust="spacingAndGlyphs">8</text></g>
<g id="n-200"><circle class="nc c4" cx="709.5" cy="1915.3" r="27"/><text class="nt w" x="709.5" y="1926.3" textLength="42" lengthAdjust="spacingAndGlyphs">200</text></g>
<g id="n-23"><circle class="nc c9" cx="441.2" cy="1968" r="27"/><text class="nt w" x="441.2" y="1979" textLength="27" lengthAdjust="spacingAndGlyphs">23</text></g>
<g id="n-24"><circle class="nc c6" cx="1011.5" cy="1994" r="27"/><text class="nt k" x="1011.5" y="2005" textLength="27" lengthAdjust="spacingAndGlyphs">24</text></g>
</g>
</svg>
